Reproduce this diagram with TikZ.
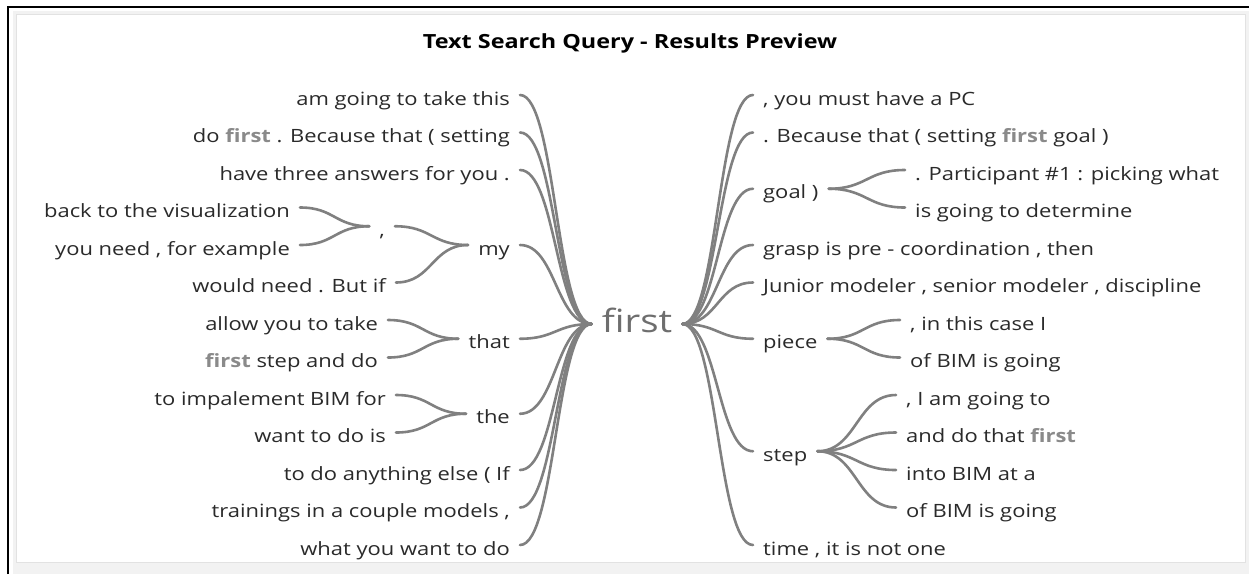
\documentclass[tikz,border=0pt]{standalone}
\usepackage{fontspec}
\setmainfont[FakeStretch = 1.2]{Open Sans}
\usetikzlibrary{calc}
\usetikzlibrary{positioning}

\definecolor{wordtxt}{HTML}{2A2A2A}
\definecolor{linegray}{HTML}{808080}
\definecolor{hubgray}{HTML}{6E6E6E}
\definecolor{hitgray}{HTML}{8A8A8A}
\definecolor{panelgray}{HTML}{F2F2F2}
\definecolor{panelline}{HTML}{E2E2E2}

\newcommand{\hit}{\textcolor{hitgray}{\textbf{first}}}

\tikzset{
	word/.style = {text = wordtxt, font = \fontsize{18.3}{20}\selectfont,
		text height = 10pt, text depth = 0pt, inner xsep = 10pt, inner ysep = 0pt},
	lword/.style = {word, anchor = north east},
	rword/.style = {word, anchor = north west},
	branch/.style = {draw = linegray, line width = 2.6pt, line cap = round}
}

\begin{document}
\begin{tikzpicture}[x = 1pt, y = -1pt]
		\useasboundingbox (0,0) rectangle (1249,574);
		% frame
		\fill[panelgray] (13,11) rectangle (1249,574);
		\filldraw[fill = white, draw = panelline, line width = 1pt] (16,14) rectangle (1245,562);
		\draw[black, line width = 2pt] (8,574) -- (8,7) -- (1249,7);
		\node[font = \fontsize{19.5}{22}\selectfont\bfseries, anchor = base] (title) at (630,48) {Text Search Query - Results Preview};
		% hub
		\node[text = hubgray, font = \fontsize{32}{36}\selectfont, text height = 17pt, text depth = 0pt,
			inner xsep = 10pt, inner ysep = 0pt] (first) at (637,324) {first};
		% left side
		\node[lword] (la) at (520,95) {am going to take this};
		\node[lword] (lb) at (520,132.5) {do \hit\ . Because that ( setting};
		\node[lword] (lc) at (520,170) {have three answers for you .};
		\node[lword] (my) at (520,245) {my};
		\node[lword] (that) at (520,338.75) {that};
		\node[lword] (the) at (520,413.75) {the};
		\node[lword] (ld) at (520,470) {to do anything else ( If};
		\node[lword] (le) at (520,507.5) {trainings in a couple models ,};
		\node[lword] (lf) at (520,545) {what you want to do};
		\node[lword] (comma) at (395,226.25) {,};
		\node[lword] (myb) at (396,282.5) {would need . But if};
		\node[lword] (ca) at (300,207.5) {back to the visualization};
		\node[lword] (cb) at (300,245) {you need , for example};
		\node[lword] (ta) at (388,320) {allow you to take};
		\node[lword] (tb) at (388,357.5) {\hit\ step and do};
		\node[lword] (ea) at (396,395) {to impalement BIM for};
		\node[lword] (eb) at (396,432.5) {want to do is};
		% right side
		\node[rword] (ra) at (753,95) {, you must have a PC};
		\node[rword] (rb) at (753,132.5) {. Because that ( setting \hit\ goal )};
		\node[rword] (goal) at (753,188.75) {goal )};
		\node[rword] (rc) at (753,245) {grasp is pre - coordination , then};
		\node[rword] (rd) at (753,282.5) {Junior modeler , senior modeler , discipline};
		\node[rword] (piece) at (753,338.75) {piece};
		\node[rword] (step) at (753,451.25) {step};
		\node[rword] (re) at (753,545) {time , it is not one};
		\node[rword] (ga) at (905,170) {. Participant \#1 : picking what};
		\node[rword] (gb) at (905,207.5) {is going to determine};
		\node[rword] (pa) at (900,320) {, in this case I};
		\node[rword] (pb) at (900,357.5) {of BIM is going};
		\node[rword] (sa) at (896,395) {, I am going to};
		\node[rword] (sb) at (896,432.5) {and do that \hit};
		\node[rword] (sc) at (896,470) {into BIM at a};
		\node[rword] (sd) at (896,507.5) {of BIM is going};
		% branches
		\foreach \a/\b in {first.west/la.north east, first.west/lb.north east, first.west/lc.north east,
			first.west/my.north east, first.west/that.north east, first.west/the.north east,
			first.west/ld.north east, first.west/le.north east, first.west/lf.north east,
			my.north west/comma.north east, my.north west/myb.north east,
			comma.north west/ca.north east, comma.north west/cb.north east,
			that.north west/ta.north east, that.north west/tb.north east,
			the.north west/ea.north east, the.north west/eb.north east,
			first.east/ra.north west, first.east/rb.north west, first.east/goal.north west,
			first.east/rc.north west, first.east/rd.north west, first.east/piece.north west,
			first.east/step.north west, first.east/re.north west,
			goal.north east/ga.north west, goal.north east/gb.north west,
			piece.north east/pa.north west, piece.north east/pb.north west,
			step.north east/sa.north west, step.north east/sb.north west,
			step.north east/sc.north west, step.north east/sd.north west}
		{
			\draw[branch] let \p1 = (\a), \p2 = (\b) in
				(\p1) .. controls ({0.5*\x1+0.5*\x2},\y1) and ({0.5*\x1+0.5*\x2},\y2) .. (\p2);
		}
	\end{tikzpicture}
\end{document}
